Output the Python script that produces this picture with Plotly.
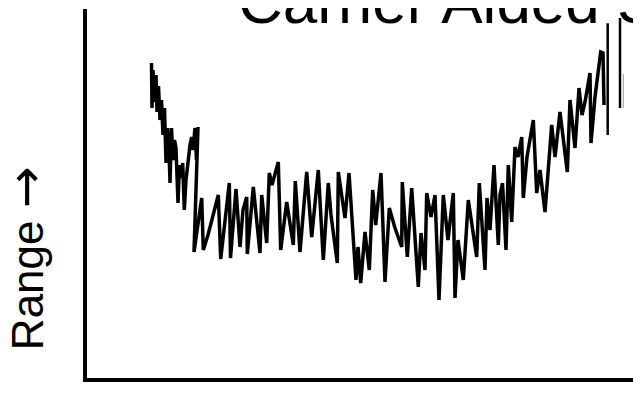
import plotly.graph_objects as go

# Sample time (arbitrary units) and measured range (arbitrary units)
time_vals = [64.5, 65, 66, 67.5, 69, 70, 71.5, 73, 74.5, 76, 77.5, 79, 80.5, 82, 83, 84.5, 86, 87.5, 89, 91,
             92.5, 94, 95.7, 97.3, 99, 101, 103, 104.7, 106, 108, 109.5, 111, 107, 114.7, 116.3, 121, 126, 131.3, 133.7, 138,
             142.3, 143.5, 149, 153, 156, 159.7, 160.3, 166.3, 173, 174.7, 179.7, 182.3, 185, 191.3, 193.7, 199.7, 206.3, 208.3, 213, 219.7,
             224.7, 231.3, 236.3, 241.3, 244, 250.3, 251.3, 258, 262, 269, 271, 273.7, 278, 282.3, 285.7, 288.7, 294, 298, 302.3, 308,
             314.7, 315.3, 320.3, 324.7, 331.3, 334, 338, 339.7, 344, 348, 352, 356.3, 361, 366.3, 368, 371, 376.3, 381.3, 389.7, 392.3,
             398, 400, 403, 407, 411.3, 413, 415.5, 419, 421.3, 424.7, 428, 431, 434.7, 436.3, 440, 446.3, 449.7, 453, 458, 464.7,
             468, 473, 480.3, 483, 488, 492, 495, 498, 503, 504, 508, 513.7, 516, 517]
range_vals = [315, 270, 308, 276, 303, 266, 292, 258, 278, 243, 270, 215, 250, 228, 195, 250, 218, 238, 230, 175,
              213, 200, 215, 168, 198, 218, 233, 241, 228, 250, 218, 251, 126, 180, 128, 143, 163, 183, 119, 158,
              195, 120, 189, 131, 168, 181, 124, 191, 125, 183, 135, 205, 193, 216, 128, 176, 133, 197, 126, 206,
              141, 208, 118, 195, 163, 115, 206, 160, 205, 98, 131, 95, 146, 108, 188, 153, 205, 96, 170, 150,
              131, 196, 121, 190, 91, 145, 108, 185, 161, 183, 78, 183, 138, 185, 80, 138, 98, 178, 121, 195,
              108, 180, 148, 213, 133, 183, 195, 128, 213, 156, 231, 221, 241, 180, 221, 258, 185, 208, 166, 253,
              221, 266, 206, 278, 230, 290, 263, 276, 305, 235, 281, 326, 325, 273]

# Marker strokes at the right edge (time, start range, end range)
mark_time = [520.7, 533.0]
mark_lo = [243, 270]
mark_hi = [354.7, 360]
faint_time = [536.3]
faint_lo = [270]
faint_hi = [304]

title_text = "Carrier Aided Smoothing"
y_label = "Range <span style='font-family:DejaVu Sans;font-size:50px'>\u2192</span>"

fig = go.Figure()
fig.add_trace(go.Scatter(x=time_vals, y=range_vals, mode="lines",
                         line=dict(color="black", width=3.5), hoverinfo="skip"))
for t, lo, hi in zip(mark_time, mark_lo, mark_hi):
    fig.add_trace(go.Scatter(x=[t, t], y=[lo, hi], mode="lines",
                             line=dict(color="black", width=2.5), hoverinfo="skip"))
for t, lo, hi in zip(faint_time, faint_lo, faint_hi):
    fig.add_trace(go.Scatter(x=[t, t], y=[lo, hi], mode="lines",
                             line=dict(color="#999999", width=1), hoverinfo="skip"))

fig.update_layout(
    width=633, height=400,
    margin=dict(l=79, r=0, t=1, b=30),
    paper_bgcolor="white", plot_bgcolor="white",
    showlegend=False,
    font=dict(family="Liberation Sans, Arial, sans-serif", color="black"),
    xaxis=dict(range=[0, 554], showline=True, linecolor="black", linewidth=4,
               showgrid=False, zeroline=False, showticklabels=False, ticks=""),
    yaxis=dict(range=[0, 369], showline=True, linecolor="black", linewidth=4,
               showgrid=False, zeroline=False, showticklabels=False, ticks=""),
    annotations=[
        dict(text=title_text, xref="paper", yref="paper", x=0.269, y=1.019,
             xanchor="left", yanchor="middle", showarrow=False,
             font=dict(size=62, family="Liberation Sans, Arial, sans-serif", color="black")),
        dict(text=y_label, xref="paper", yref="paper", x=-0.11, y=0.325,
             xanchor="center", yanchor="middle", showarrow=False, textangle=-90,
             font=dict(size=44, family="Liberation Sans, Arial, sans-serif", color="black")),
    ],
)

fig.write_html("out.html")
